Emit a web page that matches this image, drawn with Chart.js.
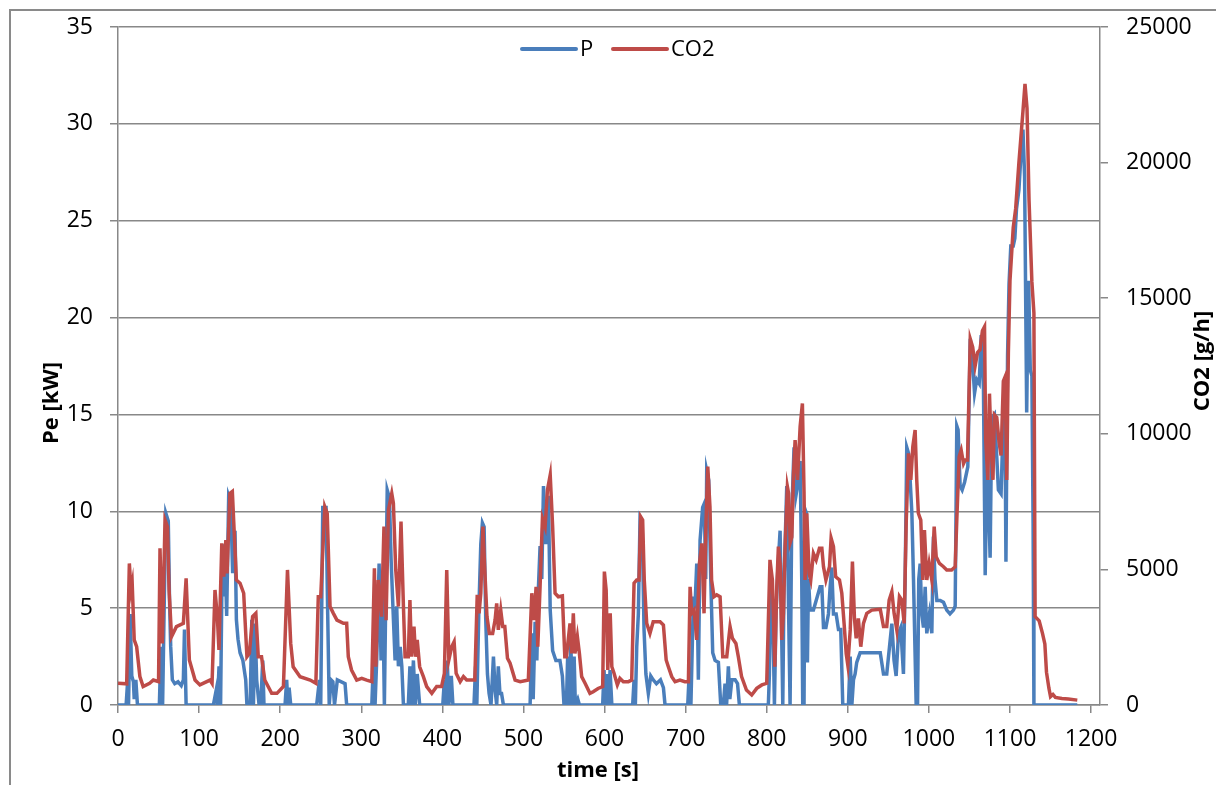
<!DOCTYPE html>
<html lang="en">
<head>
<meta charset="utf-8">
<title>P and CO2 over time</title>
<script src="https://cdn.jsdelivr.net/npm/chart.js"></script>
<style>
  html, body { margin: 0; padding: 0; background: #fff; overflow: hidden; }
  #wrap { position: relative; width: 1216px; height: 785px; }
  #frame { position: absolute; left: 9px; top: 9px; width: 1300px; height: 900px; border: 2px solid #8a8a8a; }
  #chart { position: absolute; left: 0; top: 0; }
</style>
</head>
<body>
<div id="wrap">
  <div id="frame"></div>
  <canvas id="chart" width="1216" height="785"></canvas>
</div>
<script>
// time [s] and Pe [kW]
const pTime = [0,10,12,13,15,17,19,20,22,24,51,53,55,57,59,62,63.5,65,67,70,74,78,80.6,82,84,
  117.6,121.7,122.5,124.6,126.5,128.7,131,132.4,134,136.5,139,141.4,144.3,146,148,150.5,154,157.5,159,163,165,167,169,171,174,176,178.5,180,
  206,208,209.5,211,213,245,248.4,250,252.5,256.6,258.6,260.5,262.7,265,267,270.5,280,282,
  313,315,317,319,322,324.4,326.5,328.5,330,332,334.7,336.8,339,341.7,343.7,345.8,348,350,352,358,360,362,364.3,366.5,369,372,
  400.5,402.5,404,406,408,411,413,439,441,442.5,445,447.4,449.4,451.5,453.5,455.6,457.6,460,463,465,467,469,471,473,475.3,
  508.2,510.3,512,514.4,516.5,518.5,520.5,522.6,524.7,527.5,530.8,533,536,540,545,548,550,553,554.5,556,558.5,560,562.5,564,567,569,
  597.7,599.4,601,603.5,605,606.8,609,634.7,636.4,638,639.7,641.7,643.8,646.3,648.7,651,654,657,660,664,669,672.6,674.6,
  702.6,704.6,706.5,709.6,711.5,713.7,715.7,717.8,721,723,724.8,726,728.5,731,733.4,736.3,740.4,743.3,746.5,748.6,750.5,752.7,754.5,757,761,764,766.3,
  802,803.3,805,807.5,809.5,811.5,813.6,816.5,818,819.8,821.4,824.7,827,828.8,830.9,833.7,836,838,841.2,843.2,844.4,846,847.3,849,850.2,851.5,853.5,857.6,861.7,865.8,868,870,873,876.1,878.2,880.2,882.3,885.6,888.5,891.3,893.8,
  900.8,902.9,905,907,909,911,915.2,940,944,948,951.4,954.3,957,959.6,962.5,965.3,968.6,970.7,972.7,974.8,976.9,979,981,984.3,986,987.5,989.2,991.2,993.3,995.4,997.4,1000.7,1003.6,1005.6,1007.5,1009.8,1013.9,1018,1022,1026,1030.3,1032.4,
  1034.4,1036,1038.5,1041,1044,1048,1051,1054,1056.3,1059,1062,1064.5,1067.3,1069.4,1071.4,1073,1075.5,1077.5,1080.8,1083.7,1085.7,1089,1091.8,1094,1095,1097,1098.8,
  1101,1104,1106,1108,1111,1113.5,1116,1118,1120.6,1122,1123,1125,1127,1128.5,1129.5,1183];
const pValues = [0,0,1.3,0,4.7,1.5,1.2,0.3,1.3,0,0,3.0,0,5.2,9.9,9.5,5.5,3.0,1.3,1.1,1.2,1.0,1.3,3.9,0,
  0,0.9,0,2.0,0,8.3,5.6,7.3,4.6,10.8,10.5,6.8,9.0,4.4,3.4,2.7,2.3,1.3,0,0,4.4,0,4.2,1.3,0,0,2.3,0,
  0,1.3,0,0.9,0,0,1.3,0,10.2,10.2,4.7,0,1.3,1.2,0,1.3,1.1,0,
  0,2.3,0,2.3,7.3,2.3,5.8,0,4.9,11.1,10.7,7.5,5.1,2.3,5.1,2.0,3.0,2.0,0,0,2.0,0,2.3,0,1.6,0,
  0,1.3,0,2.3,0,1.5,0,0,2.0,0,4.9,8.3,9.4,9.2,4.4,1.6,0.6,0,2.5,0.8,0,2.0,0.6,0.6,0,
  0,3.7,0.3,4.3,2.3,6.1,8.2,6.5,11.3,8.3,10.8,4.9,2.8,2.3,2.3,1.5,0,0,2.5,0,3.2,0,2.5,0,0.3,0,
  0,1.8,0,1.6,0,1.8,0,0,1.3,0,3.0,4.7,9.7,9.5,3.9,1.6,0.6,1.5,1.3,1.1,1.3,0.9,0,
  0,1.8,0,5.6,5.0,7.3,1.3,8.5,10.2,10.4,6.5,12.1,11.6,6.5,2.7,2.3,2.2,0,0,1.1,0,2.0,0.3,1.3,1.3,1.1,0,
  0,1.6,6.5,4.8,0,4.8,6.9,9.0,4.8,0,6.5,11.3,4.8,0,9.9,13.3,10.8,11.3,12.6,6.5,0,0,10.1,9.9,2.2,6.5,4.9,4.9,5.5,6.1,6.1,4.0,4.0,4.7,6.1,7.1,4.7,4.7,3.9,3.9,0,
  0,2.5,0,1.3,1.6,2.2,2.7,2.7,1.6,1.6,3.0,4.2,2.3,1.5,3.7,4.0,1.6,6.5,13.3,13.0,11.6,9.9,6.5,0,0,6.5,7.3,4.7,4.0,6.1,3.7,4.7,3.7,8.7,6.5,5.4,5.4,5.3,4.9,4.7,4.9,5.1,
  14.4,14.2,11.3,11.1,11.5,12.3,18.9,17.6,16.1,16.8,16.6,19.1,16.3,6.7,11.7,11.5,7.6,14.8,15.0,12.8,11.1,10.9,14.8,13.7,7.4,18.0,21.7,
  23.7,23.7,24.1,25.6,26.6,28.4,29.7,27.3,15.1,20.0,21.9,17.3,17.0,9.4,0,0];

// time [s] and CO2 [g/h]
const co2Time = [0,10.7,14,16,17.5,20,23,27,31,39,43.6,50,51.8,54.7,58,61,63,66,72,80.6,84,88,95,101,113.5,116,119.6,122.5,124.5,128,130.5,133,134.5,138,141,146,150.5,155,159,162,166,170,173,177,181,189.5,196,
  204,209,213,216,224.5,237,244,247,250,255,258,261.5,265.6,270,278,282,284,288,294.4,300.6,306.7,313,316.2,318,321,325,328,330.6,333.5,337.6,339.6,342.5,345.8,349,352,354,358,360,362,365,367,369,372,376.6,380.7,387,393,
  399,402.5,405.4,408,411.6,414.5,417,422,426,430,440,443,445.3,447.4,450,452.3,455,458,462,465,467,469,472,474.5,477,480.3,483.5,489.7,496,
  506,510.3,513,515.6,517.7,520.5,523.4,526.7,529.6,533,536,539,543,548,551,553,557.4,559.5,561.5,563.5,566.5,569,571.8,576,582,586,592,597.7,
  599.8,602,604,607,609,611.7,615.8,619,623.2,629.4,633.5,636.4,639.7,642.5,644.6,647,649,652,656,660,668.5,672.6,676,678.7,682.9,687,693,699,
  703.4,705.5,707.5,710.4,713.7,717,720,722.7,725.2,727.3,730,732,735,738.4,742.5,745.8,750.7,754.8,757.7,762,765,769,775,781.5,787.7,794,
  800,804,807,810,812.4,814.4,816.5,818.5,820.6,822.7,825.5,827,829,831,833,835,838,841.2,844,846,847.3,849.4,852.3,854.3,857.6,861,865,868,870,873,877.4,879.4,882.3,885,889.7,892.6,895.4,898,
  900,903,905.7,908.2,910.3,913,916,919.3,923.4,929.6,940,944,948,951,954.3,957.1,960.4,963.7,966.6,969.5,972,974.8,977.7,980.2,983,985,987,990,992.5,994.5,997.4,
  1000.3,1003.6,1006.5,1009,1013,1018,1022,1028,1032.4,1034.4,1037.3,1039.8,1042.7,1044.7,1047.6,1051,1054,1057,1060,1063,1066,1068.6,1070,1072.7,1074.7,1076.7,1079,1080.8,1083.7,1086.5,1089,1091.8,1094,1096,1098,
  1100,1104,1107,1111,1116,1118.5,1121,1123.5,1127,1129.5,1131,1136,1140,1143,1145,1148,1150,1153,1156,1164,1172,1183];
const co2Values = [800,780,5220,4240,4490,2400,2150,1045,680,800,920,860,5780,2270,6820,6570,4240,2520,2890,3010,4670,1660,920,740,920,800,4240,3260,2030,5960,4730,6080,4850,7800,7870,4610,4490,4120,1780,1900,3260,3380,1780,1780,920,430,430,
  680,4980,2270,1410,1045,920,800,3990,3990,7310,7070,3630,3380,3130,3010,3010,1780,1290,920,985,920,860,5040,1410,4610,3260,6580,3130,7190,7800,7440,4980,3630,6760,3630,1780,1780,3870,1780,2890,1780,2400,1410,1045,680,430,680,
  680,1170,4980,1660,2150,2330,1170,860,1045,920,920,4060,3380,4120,6580,4980,3260,2640,2640,3130,3750,2770,3500,2890,2890,1720,1540,920,860,
  920,4120,3130,4360,2150,4360,6880,6570,7930,8480,6570,4120,3990,4020,1780,1780,3010,1900,3380,1900,2520,1900,1045,800,430,490,610,680,
  4920,4240,1290,3380,1410,1170,740,980,860,860,920,4490,4610,4610,6940,6820,4610,3010,2640,3070,3070,2950,1660,1410,1045,860,920,860,
  860,4360,3380,3500,2400,5220,5960,3380,6820,8790,7310,4610,3990,4060,3990,1780,1780,2890,2460,2270,1780,1045,550,370,615,740,
  800,5350,4610,1410,4360,5840,5220,2400,3380,5840,8050,7800,6000,6200,8500,9770,8300,10260,11120,7860,4610,7070,4850,4610,5590,5350,5780,5780,5100,4610,5100,6150,5840,4730,4610,4120,3010,1900,
  1475,2770,5290,3190,2460,3190,2150,3010,3380,3500,3530,2890,2890,3870,4180,3380,2770,4000,3870,3010,6700,9280,8300,9530,10140,8300,7070,6820,4610,6450,4610,
  5220,4610,6580,5470,5220,5100,4980,4980,5100,6820,9160,9400,8900,9030,9030,13500,13200,12500,13000,13100,13800,13950,9800,8300,11480,9600,8300,10700,10600,9700,9200,11940,12100,8300,13000,
  15660,17600,18300,20000,21900,22900,22000,18600,15600,14450,3260,3100,2650,2250,1210,620,310,390,280,240,220,180];

const xTicks = [0,100,200,300,400,500,600,700,800,900,1000,1100,1200];
const pTicks = [0,5,10,15,20,25,30,35];
const co2Ticks = [0,5000,10000,15000,20000,25000];

const seriesNames = ['P', 'CO2'];
const seriesColors = ['#4a7ebb', '#be4b48'];

const fontFamily = '"Open Sans", "Liberation Sans", sans-serif';
const gridColor = '#888888';

function toPoints(ts, vs) {
  return ts.map((t, i) => ({ x: t, y: vs[i] }));
}

// titles and legend are drawn by hand so they sit where Excel puts them
const decor = {
  id: 'decor',
  afterDraw(chart) {
    const ctx = chart.ctx;
    ctx.save();
    ctx.fillStyle = '#000';
    ctx.textBaseline = 'middle';
    ctx.textAlign = 'center';
    ctx.font = 'bold 22px ' + fontFamily;
    ctx.fillText('time [s]', 598, 771);

    ctx.save();
    ctx.translate(52, 403);
    ctx.rotate(-Math.PI / 2);
    ctx.fillText('Pe [kW]', 0, 0);
    ctx.restore();

    ctx.save();
    ctx.translate(1203, 361);
    ctx.rotate(-Math.PI / 2);
    ctx.fillText('CO2 [g/h]', 0, 0);
    ctx.restore();

    // legend
    ctx.font = '22px ' + fontFamily;
    ctx.textAlign = 'left';
    const y = 49;
    const starts = [522, 613];
    chart.data.datasets.forEach((ds, i) => {
      const x0 = starts[i];
      ctx.strokeStyle = ds.borderColor;
      ctx.lineWidth = 4;
      ctx.lineCap = 'round';
      ctx.beginPath();
      ctx.moveTo(x0, y);
      ctx.lineTo(x0 + 54, y);
      ctx.stroke();
      ctx.fillText(ds.label, x0 + 58, y + 1);
    });
    ctx.restore();
  }
};

const plain = (v) => String(v);
const fixWidth = (w) => (scale) => {
  scale.width = w;
  scale.paddingTop = 0;
  scale.paddingBottom = 0;
};

new Chart(document.getElementById('chart'), {
  type: 'line',
  data: {
    datasets: [
      {
        label: seriesNames[0],
        data: toPoints(pTime, pValues),
        yAxisID: 'yP',
        borderColor: seriesColors[0],
        borderWidth: 3.5,
        pointRadius: 0,
        tension: 0,
        order: 2
      },
      {
        label: seriesNames[1],
        data: toPoints(co2Time, co2Values),
        yAxisID: 'yC',
        borderColor: seriesColors[1],
        borderWidth: 3.5,
        pointRadius: 0,
        tension: 0,
        order: 1
      }
    ]
  },
  options: {
    responsive: false,
    animation: false,
    events: [],
    layout: { padding: { top: 27, left: 0, right: 0, bottom: 0 } },
    plugins: {
      legend: { display: false },
      tooltip: { enabled: false }
    },
    scales: {
      x: {
        type: 'linear',
        position: 'bottom',
        min: 0,
        max: 1211,
        afterBuildTicks: (scale) => { scale.ticks = xTicks.map(v => ({ value: v })); },
        afterFit: (scale) => { scale.height = 80; scale.paddingLeft = 0; scale.paddingRight = 0; },
        grid: { drawOnChartArea: false, drawTicks: true, tickLength: 8, color: gridColor, lineWidth: 1.5 },
        border: { color: gridColor, width: 1.5 },
        ticks: { color: '#000', padding: 13, maxRotation: 0, callback: plain, font: { family: fontFamily, size: 23 } }
      },
      yP: {
        type: 'linear',
        position: 'left',
        min: 0,
        max: 35,
        afterBuildTicks: (scale) => { scale.ticks = pTicks.map(v => ({ value: v })); },
        afterFit: fixWidth(118),
        grid: { drawTicks: true, tickLength: 8, color: gridColor, lineWidth: 1.5 },
        border: { color: gridColor, width: 1.5 },
        ticks: { color: '#000', padding: 17, callback: plain, font: { family: fontFamily, size: 23 } }
      },
      yC: {
        type: 'linear',
        position: 'right',
        min: 0,
        max: 25000,
        afterBuildTicks: (scale) => { scale.ticks = co2Ticks.map(v => ({ value: v })); },
        afterFit: fixWidth(116),
        grid: { drawOnChartArea: false, drawTicks: true, tickLength: 8, color: gridColor, lineWidth: 1.5 },
        border: { color: gridColor, width: 1.5 },
        ticks: { color: '#000', padding: 18, callback: plain, font: { family: fontFamily, size: 23 } }
      }
    }
  },
  plugins: [decor]
});
</script>
</body>
</html>
